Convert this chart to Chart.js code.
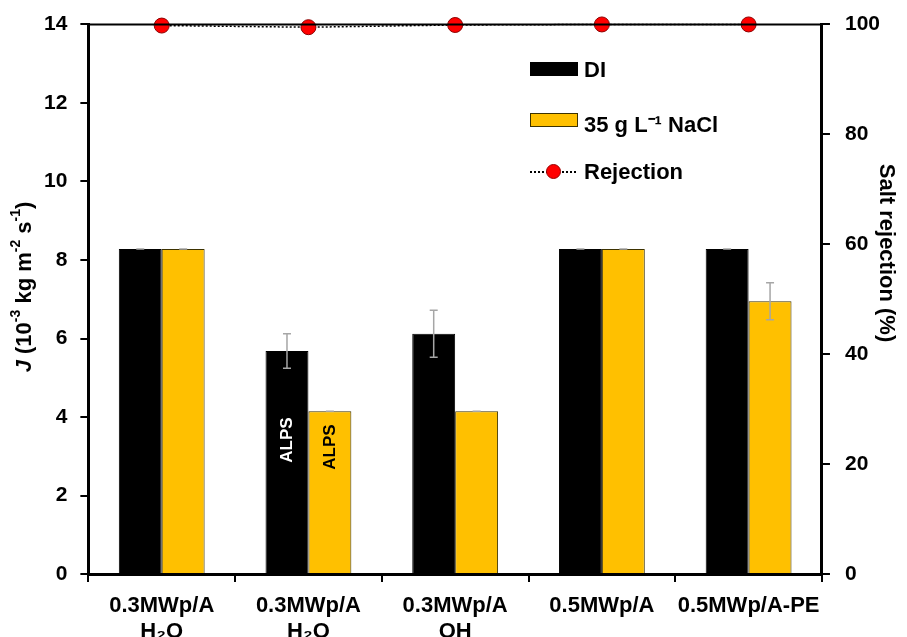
<!DOCTYPE html>
<html>
<head>
<meta charset="utf-8">
<script src="https://cdn.jsdelivr.net/npm/chart.js@4.4.1/dist/chart.umd.min.js"></script>
<style>
  html, body { margin: 0; background: #fff; overflow: hidden; }
  #wrap { position: relative; width: 907px; height: 637px; overflow: hidden; }
  #legend { position: absolute; left: 530px; top: 57px; font: bold 22px "Liberation Sans", Arial, sans-serif; color: #000; }
  .item { position: relative; height: 51px; }
  .sw { position: absolute; left: 0; top: 5px; width: 48px; height: 14px; box-sizing: border-box; }
  .txt { position: absolute; left: 54px; top: 0; white-space: nowrap; }
  .dots { position: absolute; left: 0; top: 12px; width: 46px; border-top: 2px dotted #000; }
  .dot { position: absolute; left: 16px; top: 5px; width: 15px; height: 15px; border-radius: 50%; background: #ff0000; border: 1px solid #900; box-sizing: border-box; }
</style>
</head>
<body>
<div id="wrap">
  <canvas id="fluxChart" width="907" height="661"></canvas>
  <div id="legend"></div>
</div>
<script>
// Membrane samples on the x axis
const categories = [['0.3MWp/A', 'H\u2082O'], ['0.3MWp/A', 'H\u2082O'], ['0.3MWp/A', 'OH'], '0.5MWp/A', '0.5MWp/A-PE'];

// Flux, 10^-3 kg m^-2 s^-1
const fluxDI = [8.28, 5.68, 6.12, 8.28, 8.28];
const errDI = [0.0, 0.44, 0.60, 0.0, 0.0];
const fluxNaCl = [8.28, 4.15, 4.15, 8.28, 6.95];
const errNaCl = [0.0, 0.0, 0.0, 0.0, 0.47];

// Salt rejection, %
const rejection = [99.8, 99.5, 99.9, 100, 100];

// text written inside bars
const barNotes = ['', 'ALPS', '', '', ''];

const FONT = '"Liberation Sans", Arial, sans-serif';

// draws a run of [text, style] pieces, style: 'i' italic, 's' superscript
function drawRich(ctx, parts, size) {
  const fontFor = st => (st === 'i' ? 'italic bold ' : 'bold ') + (st === 's' ? Math.round(size * 0.65) : size) + 'px ' + FONT;
  let total = 0;
  parts.forEach(p => { ctx.font = fontFor(p[1]); total += ctx.measureText(p[0]).width; });
  let x = -total / 2;
  parts.forEach(p => {
    ctx.font = fontFor(p[1]);
    ctx.fillText(p[0], x, p[1] === 's' ? -size * 0.38 : 0);
    x += ctx.measureText(p[0]).width;
  });
}

// error bars, in-bar notes, axis titles and the top frame line
const extrasPlugin = {
  id: 'extras',
  afterDatasetsDraw(chart) {
    const ctx = chart.ctx;
    const y = chart.scales.y;
    const errs = [errDI, errNaCl];
    const vals = [fluxDI, fluxNaCl];
    ctx.save();
    [0, 1].forEach(di => {
      const meta = chart.getDatasetMeta(di);
      meta.data.forEach((bar, i) => {
        const hi = y.getPixelForValue(vals[di][i] + errs[di][i]);
        const lo = y.getPixelForValue(vals[di][i] - errs[di][i]);
        ctx.strokeStyle = '#a6a6a6';
        ctx.lineWidth = 1.5;
        ctx.beginPath();
        ctx.moveTo(bar.x, hi); ctx.lineTo(bar.x, lo);
        ctx.moveTo(bar.x - 4, hi); ctx.lineTo(bar.x + 4, hi);
        ctx.moveTo(bar.x - 4, lo); ctx.lineTo(bar.x + 4, lo);
        ctx.stroke();
        if (barNotes[i]) {
          ctx.save();
          ctx.translate(bar.x, di === 0 ? 440 : 447);
          ctx.rotate(-Math.PI / 2);
          ctx.fillStyle = di === 0 ? '#fff' : '#000';
          ctx.font = 'bold 17px ' + FONT;
          ctx.textAlign = 'center';
          ctx.textBaseline = 'middle';
          ctx.fillText(barNotes[i], 0, 0);
          ctx.restore();
        }
      });
    });
    const a = chart.chartArea;
    ctx.strokeStyle = '#000';
    ctx.lineWidth = 2;
    ctx.beginPath();
    ctx.moveTo(a.left, a.top); ctx.lineTo(a.right, a.top);
    ctx.stroke();

    ctx.fillStyle = '#000';
    ctx.textBaseline = 'middle';
    ctx.textAlign = 'left';
    ctx.save();
    ctx.translate(25, 287);
    ctx.rotate(-Math.PI / 2);
    drawRich(ctx, [['J', 'i'], [' (10', ''], ['-3', 's'], [' kg m', ''], ['-2', 's'], [' s', ''], ['-1', 's'], [')', '']], 22);
    ctx.restore();
    ctx.save();
    ctx.translate(886, 253);
    ctx.rotate(Math.PI / 2);
    drawRich(ctx, [['Salt rejection (%)', '']], 22);
    ctx.restore();
    ctx.restore();
  }
};

const tickFont = { family: FONT, size: 21, weight: 'bold', lineHeight: 0.9 };

const ctx = document.getElementById('fluxChart').getContext('2d');
const chart = new Chart(ctx, {
  type: 'bar',
  data: {
    labels: categories,
    datasets: [
      {
        label: 'DI',
        data: fluxDI,
        backgroundColor: '#000000',
        borderColor: '#000000',
        borderWidth: 1,
        yAxisID: 'y',
        order: 2,
      },
      {
        label: '35 g L\u207B\u00B9 NaCl',
        data: fluxNaCl,
        backgroundColor: '#FFC000',
        borderColor: '#3d3200',
        borderWidth: 1,
        yAxisID: 'y',
        order: 2,
      },
      {
        type: 'line',
        label: 'Rejection',
        data: rejection,
        borderColor: '#000',
        borderWidth: 1.5,
        borderDash: [2, 2],
        pointRadius: 7.5,
        pointBackgroundColor: '#ff0000',
        pointBorderColor: '#8b0000',
        pointBorderWidth: 1,
        yAxisID: 'y1',
        clip: false,
        order: 1,
      },
    ],
  },
  options: {
    responsive: false,
    animation: false,
    layout: { padding: { top: 14, left: 31, right: 12, bottom: 5 } },
    datasets: { bar: { categoryPercentage: 0.585, barPercentage: 1.0 } },
    plugins: {
      legend: { display: false },
      tooltip: { enabled: false },
    },
    scales: {
      x: {
        grid: { display: true, drawOnChartArea: false, offset: true, tickLength: 8, color: '#000', lineWidth: 2 },
        border: { color: '#000', width: 3 },
        ticks: { color: '#000', font: { family: FONT, size: 22, weight: 'bold', lineHeight: 1.18 }, padding: 11, maxRotation: 0, autoSkip: false },
      },
      y: {
        position: 'left',
        min: 0,
        max: 14,
        ticks: { stepSize: 2, color: '#000', font: tickFont, padding: 13 },
        grid: { drawOnChartArea: false, tickLength: 8, color: '#000', lineWidth: 2 },
        border: { color: '#000', width: 3 },
      },
      y1: {
        position: 'right',
        min: 0,
        max: 100,
        ticks: { stepSize: 20, color: '#000', font: tickFont, padding: 15 },
        grid: { drawOnChartArea: false, tickLength: 8, color: '#000', lineWidth: 2 },
        border: { color: '#000', width: 3 },
      },
    },
  },
  plugins: [extrasPlugin],
});

// HTML legend inside the plot area
const legend = document.getElementById('legend');
chart.data.datasets.forEach(ds => {
  const item = document.createElement('div');
  item.className = 'item';
  if (ds.type === 'line') {
    item.innerHTML = '<div class="dots"></div><div class="dot"></div>';
  } else {
    item.innerHTML = '<div class="sw" style="background:' + ds.backgroundColor + ';border:1px solid ' + ds.borderColor + '"></div>';
  }
  const t = document.createElement('div');
  t.className = 'txt';
  t.textContent = ds.label;
  item.appendChild(t);
  legend.appendChild(item);
});
</script>
</body>
</html>
